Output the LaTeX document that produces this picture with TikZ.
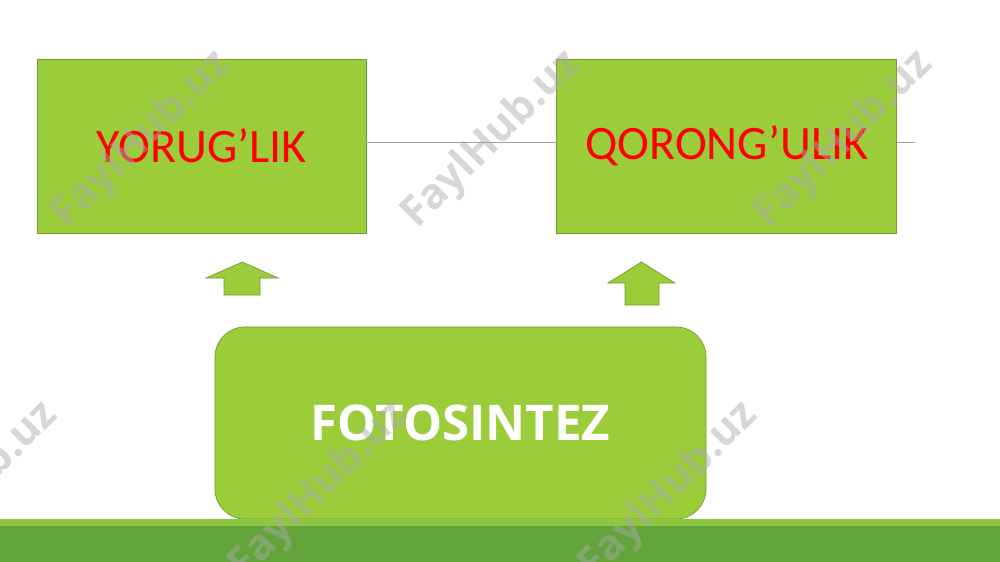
\documentclass[tikz,border=0pt]{standalone}
\usepackage{fontspec}
\newfontfamily\labelfont{Carlito}
\newfontfamily\titlefont{Open Sans}
\usetikzlibrary{positioning}
\definecolor{boxgreen}{RGB}{155,204,58}
\definecolor{boxedge}{RGB}{112,158,46}
\definecolor{bandlight}{RGB}{141,198,63}
\definecolor{banddark}{RGB}{98,163,58}
\definecolor{linegray}{RGB}{160,160,160}
\definecolor{markgray}{RGB}{170,170,170}

\begin{document}
\begin{tikzpicture}[x=0.03cm,y=-0.03cm]
\useasboundingbox (0,0) rectangle (1000,562);
\fill [white] (0,0) rectangle (1000,562);

%boxes
\tikzstyle{statebox} = [draw=boxedge, line width=0.6pt, rectangle, fill=boxgreen, text=red, minimum height=5.22cm, inner sep=0pt, font=\labelfont\fontsize{41}{48}\selectfont]
\tikzstyle{processbox} = [draw=boxedge, line width=0.6pt, rectangle, rounded corners=0.9cm, fill=boxgreen, text=white, minimum width=14.73cm, minimum height=5.76cm, font=\titlefont\bfseries\fontsize{42}{50}\selectfont]
\tikzstyle{uparrow} = [draw=boxedge, fill=boxgreen, line width=0.6pt, line join=miter]
\tikzstyle{watermark} = [text=markgray, opacity=0.47, rotate=45, font=\titlefont\bfseries\fontsize{36}{40}\selectfont]

\node (yorug) [statebox, minimum width=9.87cm] at (201.5,146) {YORUG’LIK};
\coordinate (lineend) at (915,142);
\draw [linegray, line width=0.8pt] (yorug.east |- lineend) -- (lineend);
\node (qorong) [statebox, minimum width=10.2cm, right=5.7cm of yorug] {QORONG’ULIK};

%arrows
\draw [uparrow] (224,295) -- (224,278) -- (206,278) -- (242.5,262) -- (278,278) -- (260,278) -- (260,295) -- cycle;
\draw [uparrow] (625,305) -- (625,283) -- (608,283) -- (641.5,262) -- (675,283) -- (659,283) -- (659,305) -- cycle;

\node (foto) [processbox] at (460.5,423) {FOTOSINTEZ};

%band
\fill [bandlight] (0,519) rectangle (1000,526);
\fill [banddark] (0,526) rectangle (1000,562);

%marks
\foreach \wx/\wy [count=\i] in {142/140, 492/140, 844/140, -31/491, 319/491, 669/491}
  \node (mark\i) [watermark] at (\wx,\wy) {FaylHub.uz};

\end{tikzpicture}
\end{document}
